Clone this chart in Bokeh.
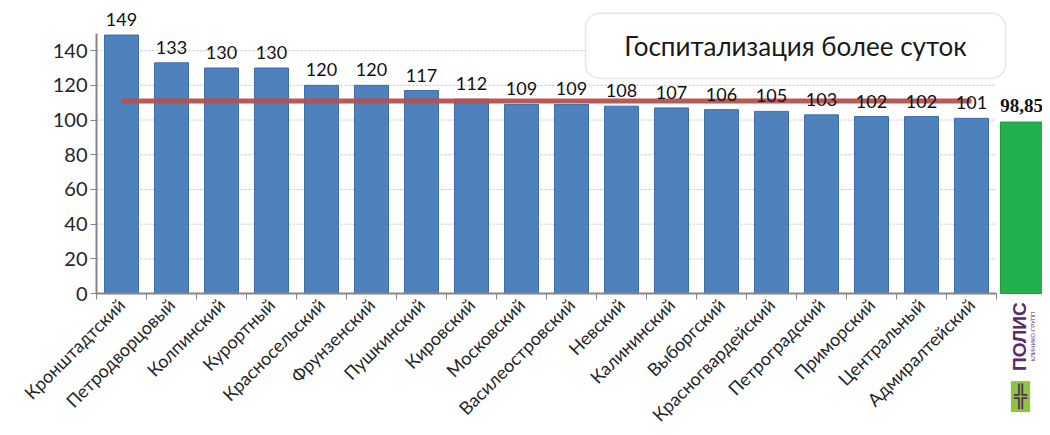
import math
from bokeh.plotting import figure
from bokeh.models import (FixedTicker, CustomJSTickFormatter, Label, BoxAnnotation,
                          Range1d, ColumnDataSource)
from bokeh.core.properties import value
from bokeh.embed import file_html
from bokeh.resources import INLINE

# ---- data ----
districts = ["Кронштадтский", "Петродворцовый", "Колпинский", "Курортный",
             "Красносельский", "Фрунзенский", "Пушкинский", "Кировский",
             "Московский", "Василеостровский", "Невский", "Калининский",
             "Выборгский", "Красногвардейский", "Петроградский", "Приморский",
             "Центральный", "Адмиралтейский"]
values = [149, 133, 130, 130, 120, 120, 117, 112, 109, 109, 108, 107, 106, 105,
          103, 102, 102, 101]
labels = [str(v) for v in values]
city_average = 111
polis_value = 98.85
polis_label = "98,85"
polis_name = "ПОЛИС"
polis_sub = "КЛИНИКО-ГРУПП"
title_text = "Госпитализация более суток"
yticks = [0, 20, 40, 60, 80, 100, 120, 140]

n = len(districts)
centers = [i + 0.5 for i in range(n)]
boundaries = list(range(n + 1))
polis_x = n + 0.5

FONT = "Lato"

# the frame fills the whole figure; both axes are pinned at 0 inside it
p = figure(width=1042, height=427, x_range=Range1d(-1.92, 18.92),
           y_range=Range1d(-77.2, 166.6),
           output_backend="svg", toolbar_location=None,
           min_border_left=0, min_border_right=0, min_border_top=4, min_border_bottom=0)
p.outline_line_color = None
p.background_fill_color = "white"
p.xgrid.grid_line_color = None
p.ygrid.grid_line_color = None

# horizontal grid lines over the category area only
grid_y = [t for t in yticks if t > 0]
p.segment(x0=[0] * len(grid_y), x1=[n] * len(grid_y), y0=grid_y, y1=grid_y,
          line_color="#bfbfbf", line_dash="2 2", line_width=1)

# y axis
ya = p.yaxis[0]
ya.fixed_location = 0
ya.ticker = FixedTicker(ticks=yticks)
ya.bounds = (0, 150)
ya.axis_line_color = "#858585"
ya.axis_line_width = 2
ya.major_tick_line_color = "#858585"
ya.major_tick_out = 6
ya.major_tick_in = 0
ya.minor_tick_line_color = None
ya.major_label_text_font = FONT
ya.major_label_text_font_size = "20px"
ya.major_label_text_color = "#262626"
ya.major_label_standoff = 3

# x axis
xa = p.xaxis[0]
xa.fixed_location = 0
xa.ticker = FixedTicker(ticks=centers, minor_ticks=boundaries)
xa.bounds = (0, n)
xa.formatter = CustomJSTickFormatter(args=dict(names=districts),
                                     code="return names[Math.floor(tick)] || '';")
xa.axis_line_color = "#858585"
xa.axis_line_width = 2
xa.major_tick_line_color = None
xa.minor_tick_line_color = "#858585"
xa.minor_tick_out = 6
xa.minor_tick_in = 0
xa.major_label_orientation = math.pi / 4
xa.major_label_text_font = FONT
xa.major_label_text_font_size = "18px"
xa.major_label_text_color = "#262626"
xa.major_label_standoff = 2

src = ColumnDataSource(dict(x=centers, top=values, label=labels))
p.vbar(x="x", top="top", width=0.68, source=src, fill_color="#4f81bd",
       line_color="#3f6ea6", line_width=1)

# average line
p.line(x=[centers[0], centers[-1]], y=[city_average, city_average],
       line_color="#b5504f", line_width=5, line_alpha=0.95)

p.text(x="x", y="top", text="label", source=src, text_align="center",
       text_baseline="bottom", y_offset=-9, text_font=value(FONT),
       text_font_size="18px", text_color="#111111")

# POLIS bar
p.vbar(x=[polis_x], top=[polis_value], width=0.84, fill_color="#22b14c",
       line_color="#1d9a42")
p.text(x=[polis_x], y=[polis_value], text=[polis_label], text_align="center",
       text_baseline="bottom", y_offset=-10, text_font=value("Liberation Serif"),
       text_font_style="bold", text_font_size="19px", text_color="#111111")

# title box
p.add_layout(BoxAnnotation(left=9.78, right=18.18, bottom=124, top=161.5,
                           fill_color="white", fill_alpha=1,
                           line_color="#b0b0b0", line_width=1.5,
                           border_radius=14, level="annotation"))
p.add_layout(Label(x=13.98, y=142.7, text=title_text, text_align="center",
                   text_baseline="middle", text_font=FONT,
                   text_font_size="26px", text_color="#1a1a1a"))

# POLIS logo below the axis
p.add_layout(Label(x=polis_x - 0.05, y=-24.8, text=polis_name, angle=math.pi / 2,
                   text_align="center", text_baseline="middle",
                   text_font="Liberation Sans", text_font_style="bold",
                   text_font_size="19px", text_color="#5b2a6b"))
p.add_layout(Label(x=polis_x + 0.22, y=-24.8, text=polis_sub, angle=math.pi / 2,
                   text_align="center", text_baseline="middle",
                   text_font="Liberation Sans", text_font_size="6px",
                   text_color="#5b2a6b"))
p.add_layout(Label(x=polis_x - 0.02, y=-59.4, text="╬", text_align="center",
                   text_baseline="middle", text_font="DejaVu Sans",
                   text_font_size="22px", text_color="#5b2a6b", padding=3,
                   background_fill_color="#8cc63f", background_fill_alpha=1))

open("out.html", "w").write(file_html(p, INLINE))
